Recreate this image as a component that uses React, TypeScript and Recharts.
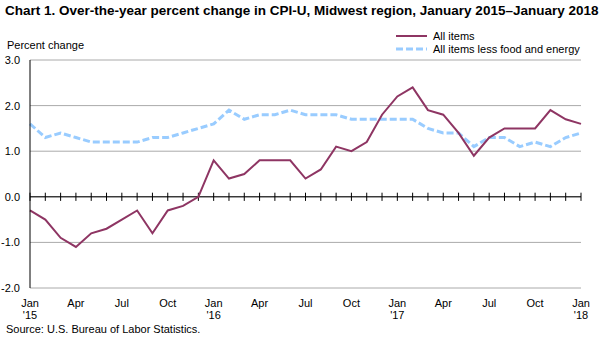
import { LineChart, Line, XAxis, YAxis, CartesianGrid, ReferenceLine } from 'recharts';

// Jan 2015 .. Jan 2018, 37 months
const monthLabels = [
    'Jan', 'Feb', 'Mar', 'Apr', 'May', 'Jun', 'Jul', 'Aug', 'Sep', 'Oct', 'Nov', 'Dec',
    'Jan', 'Feb', 'Mar', 'Apr', 'May', 'Jun', 'Jul', 'Aug', 'Sep', 'Oct', 'Nov', 'Dec',
    'Jan', 'Feb', 'Mar', 'Apr', 'May', 'Jun', 'Jul', 'Aug', 'Sep', 'Oct', 'Nov', 'Dec',
    'Jan',
];
const yearLabels: Record<number, string> = { 0: "'15", 12: "'16", 24: "'17", 36: "'18" };

const allItems = [
    -0.3, -0.5, -0.9, -1.1, -0.8, -0.7, -0.5, -0.3, -0.8, -0.3, -0.2, 0.0,
    0.8, 0.4, 0.5, 0.8, 0.8, 0.8, 0.4, 0.6, 1.1, 1.0, 1.2, 1.8,
    2.2, 2.4, 1.9, 1.8, 1.4, 0.9, 1.3, 1.5, 1.5, 1.5, 1.9, 1.7,
    1.6,
];
const lessFoodEnergy = [
    1.6, 1.3, 1.4, 1.3, 1.2, 1.2, 1.2, 1.2, 1.3, 1.3, 1.4, 1.5,
    1.6, 1.9, 1.7, 1.8, 1.8, 1.9, 1.8, 1.8, 1.8, 1.7, 1.7, 1.7,
    1.7, 1.7, 1.5, 1.4, 1.4, 1.1, 1.3, 1.3, 1.1, 1.2, 1.1, 1.3,
    1.4,
];
const xTicks = [0, 3, 6, 9, 12, 15, 18, 21, 24, 27, 30, 33, 36];
const yTicks = [-2, -1, 0, 1, 2, 3];

const data = monthLabels.map((m, i) => ({
    idx: i,
    month: m,
    all: allItems[i],
    core: lessFoodEnergy[i],
}));

const FONT = '"Liberation Sans", Arial, sans-serif';
const PURPLE = '#8E3563';
const BLUE = '#99CCFF';

// two-line month / year tick
function MonthTick(props: any) {
    const { x, y, payload } = props;
    const i = payload.value as number;
    return (
        <g>
            <text x={x} y={y + 11} textAnchor="middle" fontSize={11} fontFamily={FONT} fill="#000">
                {monthLabels[i]}
            </text>
            {yearLabels[i] && (
                <text x={x} y={y + 23} textAnchor="middle" fontSize={11} fontFamily={FONT} fill="#000">
                    {yearLabels[i]}
                </text>
            )}
        </g>
    );
}

export default function App() {
    return (
        <div style={{ position: 'absolute', left: 0, top: 0, width: 599, height: 341, background: '#fff', fontFamily: FONT }}>
            <div style={{ position: 'absolute', left: 5, top: 3, fontSize: 13.5, fontWeight: 'bold', whiteSpace: 'nowrap' }}>
                Chart 1. Over-the-year percent change in CPI-U, Midwest region, January 2015–January 2018
            </div>
            <div style={{ position: 'absolute', left: 7, top: 39, fontSize: 11 }}>Percent change</div>

            {/* legend */}
            <svg style={{ position: 'absolute', left: 391, top: 28 }} width={200} height={28}>
                <line x1={5} y1={8} x2={36} y2={8} stroke={PURPLE} strokeWidth={2} />
                <text x={42} y={12} fontSize={11} fontFamily={FONT}>All items</text>
                <line x1={5} y1={21} x2={36} y2={21} stroke={BLUE} strokeWidth={3} strokeDasharray="7 3" />
                <text x={42} y={25} fontSize={11} fontFamily={FONT}>All items less food and energy</text>
            </svg>

            <LineChart
                width={599}
                height={341}
                data={data}
                margin={{ top: 60, right: 18, left: 0, bottom: 0 }}
            >
                <CartesianGrid vertical={false} stroke="#aaaaaa" />
                <XAxis
                    dataKey="idx"
                    type="number"
                    domain={[0, 36]}
                    ticks={xTicks}
                    interval={0}
                    height={53}
                    axisLine={false}
                    tickLine={false}
                    tick={<MonthTick />}
                />
                <YAxis
                    domain={[-2, 3]}
                    ticks={yTicks}
                    width={30}
                    axisLine={{ stroke: '#000' }}
                    tickLine={false}
                    tickSize={8}
                    tickFormatter={(v: number) => v.toFixed(1)}
                    tick={{ fill: '#000', fontSize: 11, fontFamily: FONT }}
                />
                <YAxis yAxisId="right" orientation="right" width={0} domain={[-2, 3]} tick={false} tickLine={false} axisLine={{ stroke: '#aaaaaa' }} />
                <ReferenceLine y={0} stroke="#000" strokeWidth={1} />
                {data.map((d) => (
                    <ReferenceLine
                        key={d.idx}
                        segment={[{ x: d.idx, y: -0.09 }, { x: d.idx, y: 0.09 }]}
                        stroke="#000"
                    />
                ))}
                <Line
                    dataKey="core"
                    stroke={BLUE}
                    strokeWidth={3}
                    strokeDasharray="7 3"
                    dot={false}
                    isAnimationActive={false}
                />
                <Line
                    dataKey="all"
                    stroke={PURPLE}
                    strokeWidth={2}
                    dot={false}
                    isAnimationActive={false}
                />
            </LineChart>

            <div style={{ position: 'absolute', left: 6, top: 323, fontSize: 11 }}>Source: U.S. Bureau of Labor Statistics.</div>
        </div>
    );
}
